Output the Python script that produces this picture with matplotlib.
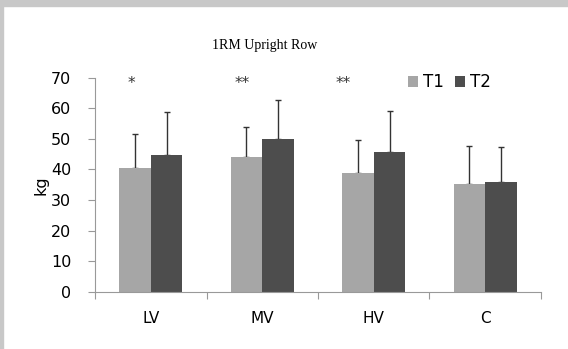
import matplotlib
matplotlib.use('Agg')
from matplotlib import pyplot as plt
from matplotlib.patches import Rectangle
import numpy as np

groups= ['LV', 'MV', 'HV', 'C']
t1= [40.6, 44.0, 38.8, 35.3]
t2= [44.8, 49.9, 45.6, 35.8]
t1_sd= [10.9, 10.0, 10.7, 12.4]
t2_sd= [13.9, 12.8, 13.5, 11.6]
stars= ['*', '**', '**', '']
title= '1RM Upright Row'

fig= plt.figure(figsize=(5.68, 3.49), dpi=100)
# grey frame of the screenshot
fig.patches.append(Rectangle((0, 1-6/349.), 1, 6/349., transform=fig.transFigure, color='#c8c8c8', zorder=0))
fig.patches.append(Rectangle((0, 0), 3/568., 1, transform=fig.transFigure, color='#c8c8c8', zorder=0))

ax= fig.add_axes([95/568., 1-291.7/349., 446/568., (291.7-77.7)/349.])
x= np.arange(len(groups))
w= 0.284
ax.bar(x-w/2, t1, w, color='#a6a6a6', label='T1', zorder=2)
ax.bar(x+w/2, t2, w, color='#4d4d4d', label='T2', zorder=2)
ekw= dict(ecolor='#333333', elinewidth=1.0, capsize=2.5, capthick=1.0, fmt='none', zorder=1)
ax.errorbar(x-w/2, t1, yerr=[np.zeros(4), t1_sd], **ekw)
ax.errorbar(x+w/2, t2, yerr=[np.zeros(4), t2_sd], **ekw)

offs= [-0.17, -0.18, -0.27, 0]
for i, s in enumerate(stars):
    if s:
        ax.text(i+offs[i], 68.2, s, ha='center', va='center', fontsize=11, color='#333333')

ax.set_xlim(-0.5, 3.5)
ax.set_ylim(0, 70)
ax.set_yticks(range(0, 71, 10))
ax.set_xticks(x)
ax.set_xticklabels(groups, fontsize=11)
ax.set_xticks(np.arange(-0.5, 4, 1), minor=True)
ax.tick_params(axis='x', which='major', length=0, pad=14)
ax.tick_params(axis='x', which='minor', length=5, color='#999999', width=0.8)
ax.tick_params(axis='y', labelsize=11.5, length=5, color='#999999', width=0.8, pad=12)
for sp in ['top', 'right']:
    ax.spines[sp].set_visible(False)
for sp in ['left', 'bottom']:
    ax.spines[sp].set_color('#999999')
    ax.spines[sp].set_linewidth(0.8)
ax.set_ylabel('kg', fontsize=11.5, labelpad=2)

fig.text(265/568., 1-45/349., title, ha='center', va='center', fontsize=10, family='Liberation Serif')

ax.legend(loc='upper left', bbox_to_anchor=(0.668, 1.09), ncol=2, frameon=False, fontsize=12,
          handlelength=0.6, handleheight=0.6, handletextpad=0.3, columnspacing=0.7)

plt.savefig('out.png', dpi=100)
